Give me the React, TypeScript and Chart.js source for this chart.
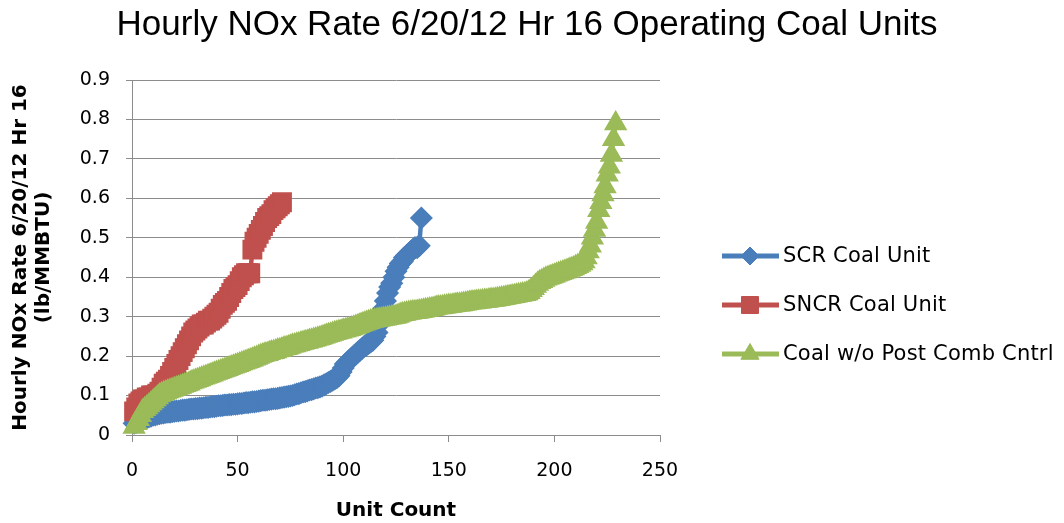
import React, { useEffect, useRef } from 'react';
import { Chart, registerables } from 'chart.js';
import { drawPoint } from 'chart.js/helpers';

Chart.register(...registerables);

const TITLE = 'Hourly NOx Rate 6/20/12 Hr 16 Operating Coal Units';
const X_TITLE = 'Unit Count';
const Y_TITLE = ['Hourly NOx Rate 6/20/12 Hr 16', '(lb/MMBTU)'];
const SERIES_NAMES = ['SCR Coal Unit', 'SNCR Coal Unit', 'Coal w/o Post Comb Cntrl'];

const xTicks = [0, 50, 100, 150, 200, 250];
const yTicks = [0, 0.1, 0.2, 0.3, 0.4, 0.5, 0.6, 0.7, 0.8, 0.9];

// SCR Coal Unit (sorted NOx rate per unit)
const scrValues = [
  0.03, 0.032, 0.035, 0.037, 0.04, 0.042, 0.044, 0.046, 0.048, 0.05, 0.051, 0.053,
  0.054, 0.055, 0.056, 0.057, 0.058, 0.058, 0.059, 0.06, 0.061, 0.061, 0.062, 0.063, 0.063, 0.064, 0.065, 0.066,
  0.066, 0.067, 0.067, 0.068, 0.068, 0.069, 0.07, 0.07, 0.071, 0.072, 0.072, 0.073, 0.074, 0.074, 0.075, 0.076,
  0.076, 0.077, 0.077, 0.078, 0.078, 0.079, 0.08, 0.08, 0.081, 0.082, 0.082, 0.083, 0.084, 0.084, 0.085, 0.086,
  0.087, 0.088, 0.088, 0.089, 0.09, 0.091, 0.092, 0.092, 0.093, 0.094, 0.095, 0.096, 0.097, 0.098, 0.099, 0.1,
  0.102, 0.104, 0.105, 0.107, 0.109, 0.11, 0.112, 0.114, 0.115, 0.117, 0.119, 0.12, 0.122, 0.124, 0.127,
  0.13, 0.133, 0.136, 0.139, 0.142, 0.145, 0.15,
  0.16, 0.17, 0.18, 0.185, 0.19, 0.195, 0.2, 0.205, 0.21,
  0.215, 0.22, 0.225, 0.228, 0.232, 0.236, 0.24,
  0.25, 0.26, 0.28, 0.3, 0.32, 0.34, 0.36,
  0.375, 0.385, 0.4, 0.415, 0.425, 0.435, 0.44, 0.45, 0.455,
  0.46, 0.465, 0.47, 0.475, 0.475, 0.48, 0.55,
];

// SNCR Coal Unit
const sncrValues = [
  0.06, 0.07,
  0.08, 0.085, 0.09, 0.09, 0.095, 0.095, 0.1, 0.1,
  0.1, 0.105, 0.11, 0.12, 0.13,
  0.135, 0.14, 0.15, 0.16, 0.17,
  0.18, 0.19, 0.2, 0.21, 0.22,
  0.23, 0.24, 0.25, 0.26, 0.265,
  0.27, 0.275, 0.28, 0.28, 0.285,
  0.29, 0.29, 0.295, 0.3, 0.305,
  0.31, 0.32, 0.33, 0.335, 0.34,
  0.35, 0.36, 0.37, 0.375, 0.38,
  0.39, 0.4, 0.405, 0.41, 0.41,
  0.41, 0.47, 0.49, 0.5, 0.51,
  0.52, 0.53, 0.54, 0.55, 0.555,
  0.56, 0.57, 0.575, 0.58, 0.585, 0.59,
];

// Coal w/o Post Comb Cntrl
const coalValues = [
  0.02, 0.03, 0.04, 0.05, 0.06, 0.065, 0.07, 0.075, 0.08, 0.085, 0.09, 0.095,
  0.1, 0.103, 0.106, 0.108, 0.11, 0.112, 0.114, 0.116, 0.118, 0.12, 0.122, 0.124, 0.126, 0.128, 0.13, 0.133,
  0.135, 0.137, 0.139, 0.141, 0.143, 0.145, 0.147, 0.149, 0.151, 0.153, 0.155, 0.157, 0.159, 0.161, 0.163, 0.165,
  0.167, 0.169, 0.171, 0.173, 0.175, 0.177, 0.179, 0.181, 0.183, 0.185, 0.187, 0.189, 0.191, 0.193, 0.195, 0.198,
  0.2, 0.202, 0.204, 0.205, 0.207, 0.209, 0.21, 0.212, 0.214, 0.215, 0.217, 0.219, 0.22, 0.222, 0.224, 0.226,
  0.227, 0.229, 0.23, 0.232, 0.233, 0.235, 0.236, 0.238, 0.239, 0.241, 0.242, 0.244, 0.245, 0.247, 0.249,
  0.251, 0.253, 0.254, 0.256, 0.258, 0.259, 0.261, 0.262, 0.264, 0.265, 0.267, 0.268, 0.27, 0.272, 0.274, 0.276,
  0.278, 0.28, 0.282, 0.284, 0.286, 0.288, 0.289, 0.29, 0.291, 0.292, 0.293, 0.294, 0.295, 0.296, 0.297, 0.298, 0.299, 0.3, 0.302, 0.304, 0.306,
  0.307, 0.308, 0.309, 0.31, 0.311, 0.311, 0.312, 0.313, 0.314, 0.315, 0.316, 0.317, 0.318, 0.319, 0.32, 0.322,
  0.323, 0.323, 0.324, 0.325, 0.326, 0.327, 0.327, 0.328, 0.329, 0.33, 0.33, 0.331, 0.332, 0.333, 0.334, 0.335,
  0.336, 0.336, 0.337, 0.338, 0.338, 0.339, 0.34, 0.34, 0.341, 0.342, 0.342, 0.343, 0.344, 0.345, 0.346, 0.347,
  0.348, 0.349, 0.35, 0.351, 0.352, 0.353, 0.354, 0.355, 0.356, 0.357, 0.359, 0.362,
  0.367, 0.372, 0.378, 0.383, 0.387, 0.39, 0.393,
  0.396, 0.398, 0.4, 0.402, 0.404, 0.406, 0.408, 0.41, 0.412, 0.414, 0.416,
  0.418, 0.42, 0.422, 0.425, 0.428, 0.431, 0.435, 0.44,
  0.45, 0.465, 0.48, 0.5, 0.52, 0.54, 0.57, 0.59,
  0.61, 0.63, 0.66, 0.68, 0.71, 0.75, 0.79,
];

const COLORS = ['#4a7ebb', '#c0504d', '#9bbb59'];
const GRID = '#8c8c8c';
const TICK_FONT = { family: '"DejaVu Sans"', size: 19 };
const AXIS_TITLE_FONT = { family: '"DejaVu Sans"', size: 20, weight: 'bold' as const, lineHeight: 1.15 };

const toPoints = (vals: number[]) => vals.map((v, i) => ({ x: i + 1, y: v }));

const sideLegend = {
  id: 'sideLegend',
  afterDraw(chart: any) {
    const ctx = chart.ctx as CanvasRenderingContext2D;
    const rows = [256, 305, 354];
    chart.data.datasets.forEach((ds: any, i: number) => {
      const y = rows[i];
      ctx.save();
      ctx.strokeStyle = ds.borderColor;
      ctx.lineWidth = 5;
      ctx.beginPath();
      ctx.moveTo(722, y);
      ctx.lineTo(779, y);
      ctx.stroke();
      ctx.fillStyle = ds.pointBackgroundColor;
      ctx.strokeStyle = ds.pointBorderColor;
      ctx.lineWidth = 1;
      drawPoint(ctx, { pointStyle: ds.pointStyle, radius: ds.legendRadius, rotation: 0, borderWidth: 1 } as any, 750, y);
      ctx.fillStyle = '#000';
      ctx.font = '21px "DejaVu Sans"';
      (ctx as any).letterSpacing = '0.2px';
      ctx.textBaseline = 'middle';
      ctx.textAlign = 'left';
      ctx.fillText(ds.label, 783, y + 1);
      ctx.restore();
    });
  },
};

export default function App() {
  const ref = useRef<HTMLCanvasElement | null>(null);

  useEffect(() => {
    if (!ref.current) return;
    const mk = (i: number, vals: number[], style: string, radius: number, legendRadius: number, order: number) => ({
      label: SERIES_NAMES[i],
      data: toPoints(vals),
      showLine: true,
      borderColor: COLORS[i],
      backgroundColor: COLORS[i],
      borderWidth: 4.5,
      pointStyle: style,
      pointRadius: radius,
      legendRadius,
      pointBackgroundColor: COLORS[i],
      pointBorderColor: COLORS[i],
      pointBorderWidth: 1.5,
      clip: false as const,
      order,
    });
    const chart = new Chart(ref.current, {
      type: 'scatter',
      data: {
        datasets: [
          mk(0, scrValues, 'rectRot', 10.5, 9, 3),
          mk(1, sncrValues, 'rect', 13, 12, 2),
          mk(2, coalValues, 'triangle', 12, 10.5, 1),
        ],
      },
      plugins: [sideLegend],
      options: {
        animation: false,
        responsive: true,
        maintainAspectRatio: false,
        layout: { padding: { left: 0, right: 10, top: 0, bottom: 0 } },
        plugins: {
          legend: { display: false },
          tooltip: { enabled: false },
          title: {
            display: true,
            text: TITLE,
            color: '#000',
            font: { family: '"Liberation Sans"', size: 35, weight: 'normal', lineHeight: 1.2 },
            padding: { top: 4, bottom: 34 },
          },
        },
        scales: {
          x: {
            type: 'linear',
            min: 0,
            max: 250,
            afterBuildTicks: (s: any) => { s.ticks = xTicks.map((v) => ({ value: v })); },
            afterFit: (s: any) => { s.height = 88; },
            grid: { display: true, drawOnChartArea: false, color: GRID, tickLength: 7, tickColor: GRID },
            border: { display: true, color: GRID, width: 1 },
            ticks: { color: '#000', font: TICK_FONT, padding: 18, maxRotation: 0 },
            title: { display: true, text: X_TITLE, color: '#000', font: AXIS_TITLE_FONT, padding: { top: 0, bottom: 1 } },
          },
          y: {
            type: 'linear',
            min: 0,
            max: 0.9,
            afterBuildTicks: (s: any) => { s.ticks = yTicks.map((v) => ({ value: v })); },
            afterFit: (s: any) => { s.width = 132; },
            grid: { display: true, color: GRID, tickLength: 6, tickColor: GRID },
            border: { display: true, color: GRID, width: 1 },
            ticks: {
              color: '#000',
              font: TICK_FONT,
              padding: 16,
              callback: (v: any) => (v === 0 ? '0' : Number(v).toFixed(1)),
            },
            title: { display: true, text: Y_TITLE, color: '#000', font: AXIS_TITLE_FONT, padding: { top: 9, bottom: 0 } },
          },
          spacer: {
            type: 'linear',
            position: 'right',
            display: true,
            afterFit: (s: any) => { s.width = 394; },
            grid: { display: false },
            border: { display: false },
            ticks: { display: false },
          },
        },
      } as any,
    });
    return () => chart.destroy();
  }, []);

  return (
    <div style={{ position: 'fixed', left: 0, top: 0, width: 1064, height: 523, background: '#fff' }}>
      <canvas ref={ref} />
    </div>
  );
}
